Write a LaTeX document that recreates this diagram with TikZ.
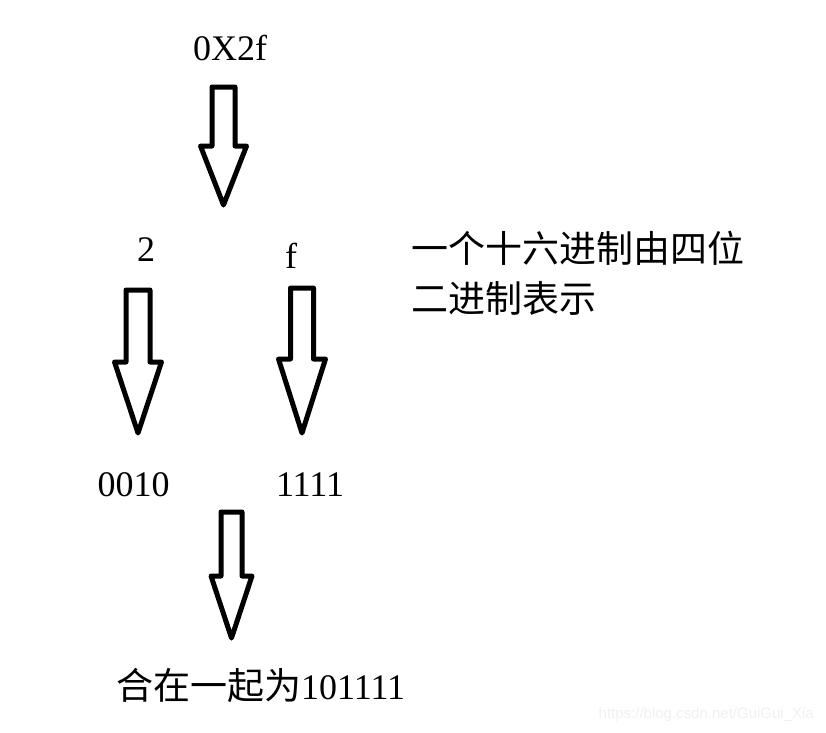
\documentclass[tikz,border=0pt]{standalone}
\usepackage{fontspec}
\setmainfont{Liberation Serif}
\newfontfamily\cjk{Noto Sans CJK SC}
\newfontfamily\webfont{Liberation Sans}
\usetikzlibrary{positioning}

\begin{document}
\begin{tikzpicture}[
      x=1pt, y=-1pt,
      every node/.style={font=\fontsize{36}{50}\selectfont, inner sep=0pt},
      label/.style={anchor=base},
      note/.style={anchor=base west, font=\fontsize{37}{50}\selectfont\cjk},
      arrowline/.style={draw, line width=5pt, line join=round},
      pics/fatarrow/.style args={#1/#2/#3/#4}{code={
        \draw[arrowline] (-#3,0) -- (-#3,#1) -- (-#4,#1) -- (0,#1+#2)
          -- (#4,#1) -- (#3,#1) -- (#3,0) -- cycle;
      }},
    ]
    \useasboundingbox (0,0) rectangle (826,732);

    \node[label] (hex) at (230,60) {0X2f};
    \node[label] (two) at (146,261) {2};
    \node[label] (eff) at (291,268) {f};
    \node[label] (bintwo) at (133.5,496) {0010};
    \node[label] (bineff) at (310,496) {1111};
    \node[anchor=base west] (sum) at (116,699)
      {{\fontsize{37}{50}\selectfont\cjk 合在一起为}101111};

    \node[note] (note) at (411,262) {一个十六进制由四位};
    \node[note] (note2) at (411,312) {二进制表示};

    % block arrows: shaft length / head length / shaft half width / head half width
    \pic at (223.5,87) {fatarrow={59/59/11.5/23}};
    \pic at (138,290) {fatarrow={72/71/12/23.5}};
    \pic at (302,288) {fatarrow={71/74/11.5/23.5}};
    \pic at (231.5,512) {fatarrow={64/62/10.5/20.5}};

    \node[anchor=base east, font=\fontsize{15}{18}\selectfont\webfont,
          text=black!6] (mark) at (814,718) {https://blog.csdn.net/GuiGui\_Xia};
  \end{tikzpicture}
\end{document}
